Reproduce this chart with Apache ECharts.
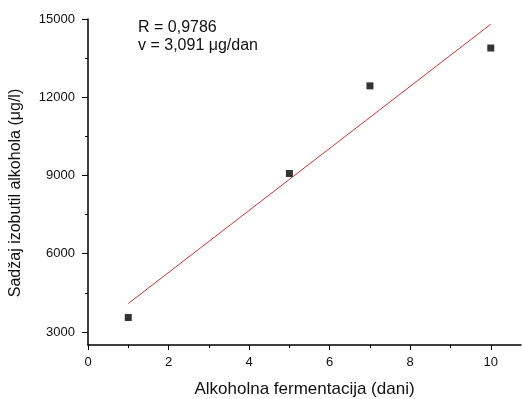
<!DOCTYPE html>
<html>
<head>
<meta charset="utf-8">
<script src="https://cdn.jsdelivr.net/npm/echarts@6/dist/echarts.min.js"></script>
<style>
  html, body { margin: 0; padding: 0; background: #fff; }
  #chart { width: 522px; height: 399px; }
</style>
</head>
<body>
<div id="chart"></div>
<script>
// podaci
const dani = [1, 5, 7, 10]
const sadrzaj = [3553, 9077, 12437, 13887]
const fitX = [1, 10]
const fitY = [4090, 14800]
const xTicks = [0, 2, 4, 6, 8, 10]
const xMinor = [1, 3, 5, 7, 9]
const yTicks = [3000, 6000, 9000, 12000, 15000]
const yMinor = [4500, 7500, 10500, 13500]
const napomena = ['R = 0,9786', 'v = 3,091 μg/dan']
const yNaslov = 'Sadžaj izobutil alkohola (μg/l)'
const xNaslov = 'Alkoholna fermentacija (dani)'

const font = 'Liberation Sans, Arial, sans-serif'
const chart = echarts.init(document.getElementById('chart'))

const axisBase = {
  type: 'value',
  splitLine: { show: false },
  axisLine: { show: true, onZero: false, lineStyle: { color: '#000', width: 1.5 } }
}

chart.setOption({
  animation: false,
  grid: { left: 88, right: 1, top: 19, bottom: 54, outerBoundsMode: 'none', containLabel: false },
  xAxis: [
    {
      ...axisBase,
      min: 0,
      max: 10.75,
      name: xNaslov,
      nameLocation: 'middle',
      nameGap: 36,
      nameTextStyle: { fontFamily: font, fontSize: 17, color: '#111' },
      axisTick: { show: true, customValues: xTicks, length: 5, lineStyle: { color: '#000' } },
      axisLabel: {
        customValues: xTicks, margin: 11, fontFamily: font, fontSize: 13, color: '#111',
        formatter: v => String(v)
      }
    },
    {
      type: 'value',
      min: 0,
      max: 10.75,
      position: 'bottom',
      splitLine: { show: false },
      axisLine: { show: false },
      axisLabel: { show: false },
      axisTick: { show: true, customValues: xMinor, length: 3, lineStyle: { color: '#000' } }
    }
  ],
  yAxis: [
    {
      ...axisBase,
      min: 2500,
      max: 15000,
      axisTick: { show: true, customValues: yTicks, length: 6, lineStyle: { color: '#000' } },
      axisLabel: {
        customValues: yTicks, margin: 13, fontFamily: font, fontSize: 13, color: '#111',
        formatter: v => String(v)
      }
    },
    {
      type: 'value',
      min: 2500,
      max: 15000,
      position: 'left',
      splitLine: { show: false },
      axisLine: { show: false },
      axisLabel: { show: false },
      axisTick: { show: true, customValues: yMinor, length: 3, lineStyle: { color: '#000' } }
    }
  ],
  graphic: [
    {
      type: 'text',
      left: 138,
      top: 19,
      style: {
        text: napomena.join('\n'),
        fontFamily: font,
        fontSize: 16,
        lineHeight: 17.5,
        fill: '#111'
      }
    },
    {
      type: 'text',
      x: 16,
      y: 193,
      rotation: Math.PI / 2,
      style: {
        text: yNaslov,
        fontFamily: font,
        fontSize: 16,
        fill: '#111',
        align: 'center',
        verticalAlign: 'middle'
      }
    }
  ],
  series: [
    {
      type: 'line',
      data: fitX.map((x, i) => [x, fitY[i]]),
      showSymbol: false,
      symbol: 'none',
      lineStyle: { color: '#cc3333', width: 1 },
      z: 1
    },
    {
      type: 'scatter',
      data: dani.map((x, i) => [x, sadrzaj[i]]),
      symbol: 'rect',
      symbolSize: 7,
      itemStyle: { color: '#000' },
      z: 2
    }
  ]
})
</script>
</body>
</html>
